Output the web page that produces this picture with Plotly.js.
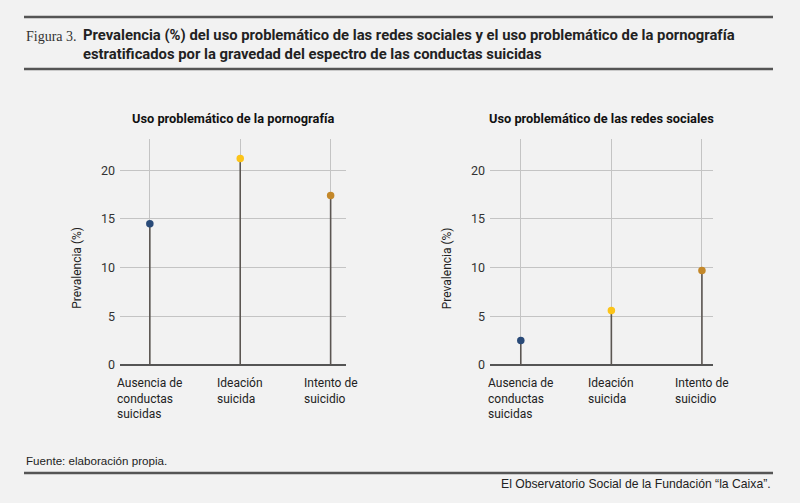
<!DOCTYPE html>
<html><head><meta charset="utf-8">
<script src="https://cdn.plot.ly/plotly-3.0.1.min.js"></script>
<style>html,body{margin:0;padding:0;background:#f2f2f2}#chart{width:800px;height:503px}</style>
</head><body><div id="chart"></div>
<script>
const categories = ["Ausencia de conductas suicidas", "Ideación suicida", "Intento de suicidio"];
const categoryLabels = ["Ausencia de<br>conductas<br>suicidas", "Ideación<br>suicida", "Intento de<br>suicidio"];
const pornografia = [14.5, 21.2, 17.4];
const redesSociales = [2.5, 5.6, 9.7];
const pointColors = ["#294a78", "#fcc419", "#c4882a"];
const panelTitles = ["Uso problemático de la pornografía", "Uso problemático de las redes sociales"];
const yTicks = [0, 5, 10, 15, 20];
const figTitle = "Prevalencia (%) del uso problemático de las redes sociales y el uso problemático de la pornografía<br>estratificados por la gravedad del espectro de las conductas suicidas";

const stemColor = "#5b5652";
const fontFam = "Roboto, 'Liberation Sans', Arial, sans-serif";
const idx = categories.map((c, i) => i);

function panel(values, xa, ya) {
  const sx = [], sy = [];
  values.forEach((v, i) => { sx.push(i, i, null); sy.push(0, v, null); });
  return [
    {type: "scatter", mode: "lines", x: sx, y: sy, line: {color: stemColor, width: 1.6},
     xaxis: xa, yaxis: ya, hoverinfo: "skip", showlegend: false, connectgaps: false},
    {type: "scatter", mode: "markers", x: idx, y: values,
     marker: {color: pointColors, size: 7.5}, xaxis: xa, yaxis: ya, showlegend: false}
  ];
}

const data = [...panel(pornografia, "x", "y"), ...panel(redesSociales, "x2", "y2")];

const yDom = [0.2744, 0.7237];
function xaxis(domain, range, anchor) {
  return {domain, range, anchor, showgrid: true, gridcolor: "#c4c4c4", gridwidth: 1,
    tickvals: idx, showticklabels: false, zeroline: false, showline: false, ticks: "", fixedrange: true};
}
function yaxis(anchor) {
  return {domain: yDom, range: [0, 23.2], anchor, tickvals: yTicks, showgrid: true,
    gridcolor: "#c4c4c4", gridwidth: 1, zeroline: true, zerolinecolor: "#555", zerolinewidth: 1.3,
    showline: false, ticks: "", ticklabelstandoff: 4,
    tickfont: {family: fontFam, size: 12.5, color: "#333"}, fixedrange: true};
}

const annotations = [];
const xRefs = ["x", "x2"], yRefs = ["y", "y2"];
const centers = [0.2913, 0.7518];
const yTitleX = [0.096, 0.559];
for (let p = 0; p < 2; p++) {
  categoryLabels.forEach((lab, i) => {
    annotations.push({xref: xRefs[p], yref: yRefs[p], x: i, y: 0, yshift: -9, text: lab,
      showarrow: false, xanchor: "center", yanchor: "top", align: "left",
      font: {family: fontFam, size: 12, color: "#222"}});
  });
  annotations.push({xref: "paper", yref: "paper", x: centers[p], y: 1 - 118 / 503, text: "<b>" + panelTitles[p] + "</b>",
    showarrow: false, xanchor: "center", yanchor: "middle", font: {family: fontFam, size: 12.8, color: "#111"}});
  annotations.push({xref: "paper", yref: "paper", x: yTitleX[p], y: 1 - 268 / 503, text: "Prevalencia (%)",
    textangle: -90, showarrow: false, xanchor: "center", yanchor: "middle", font: {family: fontFam, size: 12, color: "#222"}});
}
annotations.push({xref: "paper", yref: "paper", x: 24 / 800, y: 1 - 36 / 503, text: "Figura 3.",
  showarrow: false, xanchor: "left", yanchor: "middle", font: {family: "'Liberation Serif', 'DejaVu Serif', serif", size: 14, color: "#333"}});
annotations.push({xref: "paper", yref: "paper", x: 81 / 800, y: 1 - 44 / 503, text: "<b>" + figTitle + "</b>",
  showarrow: false, xanchor: "left", yanchor: "middle", align: "left",
  font: {family: "Roboto, sans-serif", size: 14.8, color: "#222"}});
annotations.push({xref: "paper", yref: "paper", x: 24 / 800, y: 1 - 460 / 503, text: "Fuente: elaboración propia.",
  showarrow: false, xanchor: "left", yanchor: "middle", font: {family: "'Liberation Sans Narrow', sans-serif", size: 11.6, color: "#222"}});
annotations.push({xref: "paper", yref: "paper", x: 773 / 800, y: 1 - 484 / 503, text: "El Observatorio Social de la Fundación “la Caixa”.",
  showarrow: false, xanchor: "right", yanchor: "middle", font: {family: "'Liberation Sans Narrow', sans-serif", size: 12.2, color: "#222"}});

const lineStyle = {color: "#555", width: 2.5};
const shapes = [17, 69, 473].map(py => ({type: "line", xref: "paper", yref: "paper",
  x0: 24 / 800, x1: 773 / 800, y0: 1 - py / 503, y1: 1 - py / 503, line: lineStyle}));

const layout = {
  width: 800, height: 503, margin: {l: 0, r: 0, t: 0, b: 0},
  paper_bgcolor: "#f2f2f2", plot_bgcolor: "#f2f2f2", showlegend: false,
  xaxis: xaxis([0.15, 0.4325], [-0.33, 2.17], "y"),
  xaxis2: xaxis([0.6125, 0.891], [-0.34, 2.12], "y2"),
  yaxis: yaxis("x"), yaxis2: yaxis("x2"),
  annotations, shapes
};
Plotly.newPlot("chart", data, layout, {displayModeBar: false, staticPlot: true});
</script></body></html>
